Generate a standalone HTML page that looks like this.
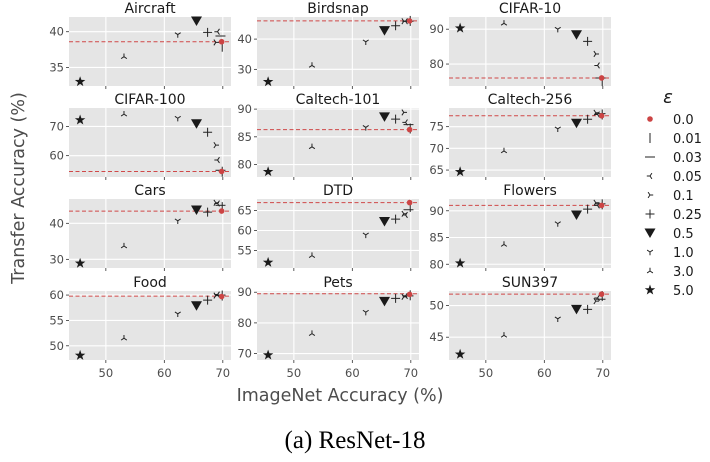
<!DOCTYPE html>
<html><head><meta charset="utf-8"><style>
body{margin:0;background:#fff;}
svg{display:block;font-family:"DejaVu Sans","Liberation Sans",sans-serif;}
</style></head><body>
<svg id="c" width="710" height="462" viewBox="0 0 710 462"></svg>
<script>
const eps = ["0.0","0.01","0.03","0.05","0.1","0.25","0.5","1.0","3.0","5.0"];
const imagenetAcc = [69.8,69.9,69.6,69.1,68.8,67.4,65.5,62.3,53.1,45.6];
const datasets = ["Aircraft","Birdsnap","CIFAR-10","CIFAR-100","Caltech-101","Caltech-256","Cars","DTD","Flowers","Food","Pets","SUN397"];
const valAircraft = [38.6,37.9,39.4,40.0,38.5,39.9,41.5,39.6,36.5,33.0];
const valBirdsnap = [46.0,46.0,45.9,45.9,45.9,44.4,42.8,39.1,31.3,25.9];
const valCifar10 = [76.0,75.1,76.0,79.6,82.9,86.5,88.4,90.0,91.7,90.3];
const valCifar100 = [54.6,54.5,55.0,58.5,63.6,68.0,70.9,72.8,74.2,72.2];
const valCaltech101 = [86.3,86.5,87.2,87.6,89.4,88.2,88.6,86.7,83.2,78.7];
const valCaltech256 = [77.5,77.8,78.0,77.8,78.2,76.7,75.8,74.5,69.4,64.6];
const valCars = [43.4,44.5,45.0,45.5,45.7,43.1,43.7,40.7,33.7,28.9];
const valDTD = [67.0,65.9,65.2,63.9,64.2,62.85,62.25,58.9,53.7,52.0];
const valFlowers = [91.0,91.2,91.3,91.0,91.5,90.3,89.2,87.6,83.7,80.2];
const valFood = [59.7,59.9,60.0,60.1,59.9,59.0,57.9,56.3,51.5,48.1];
const valPets = [89.3,89.0,88.8,88.8,88.5,88.0,87.0,83.5,76.5,69.5];
const valSun = [51.8,51.5,51.0,51.2,50.7,49.4,49.4,47.9,45.3,42.3];
const baseline = [38.6,46.0,76.0,54.6,86.3,77.5,43.4,67.0,91.0,59.8,89.5,51.8];
const yMin = [32.4,24.5,73.7,52.7,77.75,63.4,27.6,50.6,79.3,47.2,67.9,41.4];
const yMax = [42.06,47.3,93.5,76.3,90.2,79.3,46.75,67.9,92.2,60.8,90.4,52.3];
const yTicks = [[35,40],[30,40],[80,90],[60,70],[80,85,90],[65,70,75],[30,40],[55,60,65],[80,85,90],[50,55,60],[70,80,90],[45,50]];
const xTicks = [50,60,70];
const allVals = [valAircraft,valBirdsnap,valCifar10,valCifar100,valCaltech101,valCaltech256,valCars,valDTD,valFlowers,valFood,valPets,valSun];

const NS="http://www.w3.org/2000/svg";
const svg=document.getElementById('c');
function mk(tag,attrs,parent){const e=document.createElementNS(NS,tag);for(const k in attrs)e.setAttribute(k,attrs[k]);(parent||svg).appendChild(e);return e;}
const colX=[69,257,449], W=162, rowY=[17,108,199,291], H=69;
const xMin=43.7, xMax=71.4;
const xs=(v,c)=>colX[c]+(v-xMin)/(xMax-xMin)*W;

function marker(g,i,x,y){
  const s=3.2; let e;
  const st={stroke:"#222","stroke-width":1,fill:"none"};
  if(i===0){e=mk('circle',{cx:x,cy:y,r:2.8,fill:"#cc4444"},g);}
  else if(i===1){e=mk('line',Object.assign({x1:x,x2:x,y1:y-5,y2:y+5},st),g);}
  else if(i===2){e=mk('line',Object.assign({x1:x-5,x2:x+5,y1:y,y2:y},st),g);}
  else if(i===3){e=mk('path',Object.assign({d:`M${x} ${y}H${x-s}M${x} ${y}L${x+s*.6} ${y-s*.9}M${x} ${y}L${x+s*.6} ${y+s*.9}`},st),g);}
  else if(i===4){e=mk('path',Object.assign({d:`M${x} ${y}H${x+s}M${x} ${y}L${x-s*.6} ${y-s*.9}M${x} ${y}L${x-s*.6} ${y+s*.9}`},st),g);}
  else if(i===5){e=mk('path',Object.assign({d:`M${x-4.5} ${y}H${x+4.5}M${x} ${y-4.5}V${y+4.5}`},st),g);}
  else if(i===6){e=mk('path',{d:`M${x-5.5} ${y-4.5}H${x+5.5}L${x} ${y+5}Z`,fill:"#1a1a1a"},g);}
  else if(i===7){e=mk('path',Object.assign({d:`M${x} ${y}V${y+s}M${x} ${y}L${x-s*.9} ${y-s*.6}M${x} ${y}L${x+s*.9} ${y-s*.6}`},st),g);}
  else if(i===8){e=mk('path',Object.assign({d:`M${x} ${y}V${y-s}M${x} ${y}L${x-s*.9} ${y+s*.6}M${x} ${y}L${x+s*.9} ${y+s*.6}`},st),g);}
  else {let p="";for(let k=0;k<10;k++){const r=k%2?2.2:5.5,a=-Math.PI/2+k*Math.PI/5;p+=(k?"L":"M")+(x+r*Math.cos(a)).toFixed(2)+" "+(y+r*Math.sin(a)).toFixed(2);}e=mk('path',{d:p+"Z",fill:"#1a1a1a"},g);}
  return e;
}

datasets.forEach((name,d)=>{
  const c=d%3,r=Math.floor(d/3),x0=colX[c],y0=rowY[r];
  const ys=v=>y0+H-(v-yMin[d])/(yMax[d]-yMin[d])*H;
  const g=mk('g',{});
  
  
  const bg=mk('rect',{x:x0,y:y0,width:W,height:H,fill:"#e5e5e5"},g);
  
  
  const t=mk('text',{x:x0+W/2,y:y0-4,"text-anchor":"middle","font-size":14,fill:"#1a1a1a"},g);
  t.textContent=name;
  
  
  xTicks.forEach(v=>{
    const X=xs(v,c);
    mk('line',{x1:X,x2:X,y1:y0,y2:y0+H,stroke:"#fff","stroke-width":1.1},g);
    mk('line',{x1:X,x2:X,y1:y0+H,y2:y0+H+3,stroke:"#333","stroke-width":0.8},g);
    if(r===3){const tl=mk('text',{x:X,y:y0+H+17,"text-anchor":"middle","font-size":11.5,fill:"#4d4d4d"},g);tl.textContent=v;
      
      }
  });
  yTicks[d].forEach(v=>{
    const Y=ys(v);
    mk('line',{x1:x0,x2:x0+W,y1:Y,y2:Y,stroke:"#fff","stroke-width":1.1},g);
    mk('line',{x1:x0-3,x2:x0,y1:Y,y2:Y,stroke:"#333","stroke-width":0.8},g);
    const tl=mk('text',{x:x0-5,y:Y+4,"text-anchor":"end","font-size":11.5,fill:"#4d4d4d"},g);tl.textContent=v;
    
    
  });
  const bl=mk('line',{x1:x0,x2:x0+W,y1:ys(baseline[d]),y2:ys(baseline[d]),stroke:"#d04848","stroke-width":1,"stroke-dasharray":"4,2.5"},g);
  
  
  const vals=allVals[d];
  for(let i=9;i>=0;i--){
    const m=marker(g,i,xs(imagenetAcc[i],c),ys(vals[i]));
    
    
  }
});
// legend
const lg=mk('g',{});


const lt=mk('text',{x:668,y:103,"text-anchor":"middle","font-size":18,"font-style":"italic",fill:"#1a1a1a"},lg);lt.textContent="ε";
eps.forEach((e,i)=>{
  const Y=119+i*19;
  const m=marker(lg,i,650,Y);
  
  
  const tx=mk('text',{x:673,y:Y+5,"font-size":13,fill:"#1a1a1a"},lg);tx.textContent=e;
  
  
});
const yt=mk('text',{x:0,y:0,transform:"translate(24,188) rotate(-90)","text-anchor":"middle","font-size":17.5,fill:"#4d4d4d"});yt.textContent="Transfer Accuracy (%)";


const xt=mk('text',{x:340,y:401,"text-anchor":"middle","font-size":17.5,fill:"#4d4d4d"});xt.textContent="ImageNet Accuracy (%)";


const cap=mk('text',{x:355,y:448,"text-anchor":"middle","font-size":25,fill:"#000","font-family":"Liberation Serif, serif"});cap.textContent="(a) ResNet-18";


</script>
</body></html>
